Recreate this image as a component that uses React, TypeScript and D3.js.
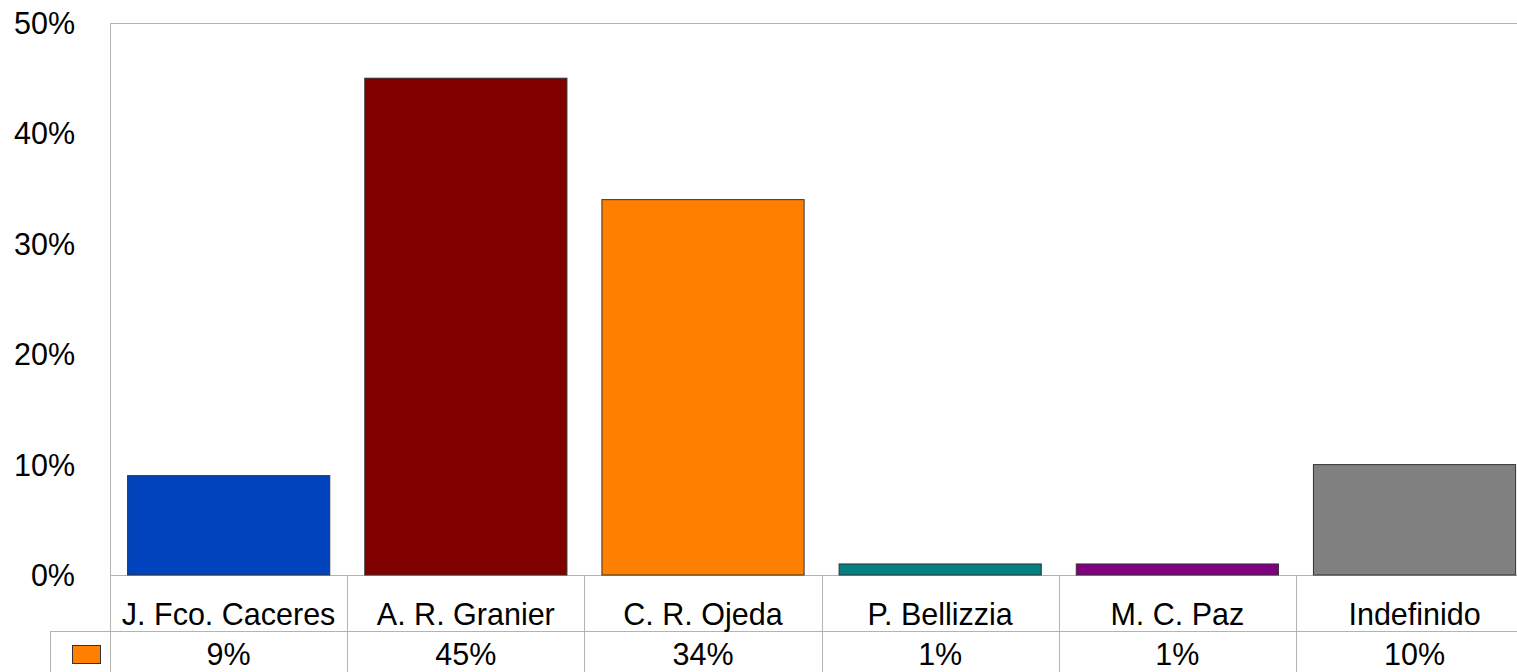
import React from "react";
import * as d3 from "d3";

const categories = ["J. Fco. Caceres", "A. R. Granier", "C. R. Ojeda", "P. Bellizzia", "M. C. Paz", "Indefinido"];
const values = [9, 45, 34, 1, 1, 10];
const barColors = ["#0043BD", "#800000", "#FF8000", "#008080", "#800080", "#808080"];
const yTicks = [0, 10, 20, 30, 40, 50];
const legendColor = "#FF8000";

const W = 1517;
const H = 672;
const left = 110;
const top = 23;
const bottom = 575;
const bandW = 237.2;
const right = left + bandW * categories.length;
const catRowBottom = 631;
const tableLeft = 50;
const gridColor = "#b3b3b3";
const font = "'Liberation Sans', Arial, sans-serif";
const fs = 30.5;

export default function App() {
  const x = d3.scaleBand<string>().domain(categories).range([left, right]).paddingInner(35 / bandW).paddingOuter(17.6 / bandW);
  const xBand = d3.scaleBand<string>().domain(categories).range([left, right]);
  const y = d3.scaleLinear().domain([0, 50]).range([bottom, top]);

  return (
    <div style={{ position: "fixed", left: 0, top: 0, width: W, height: H, background: "#fff" }}>
      <svg width={W} height={H} style={{ display: "block" }} fontFamily={font}>
        <rect x={0} y={0} width={W} height={H} fill="#fff" />
        {/* plot frame */}
        <line x1={left} x2={right} y1={top + 0.5} y2={top + 0.5} stroke={gridColor} />
        <line x1={left + 0.5} x2={left + 0.5} y1={top} y2={H} stroke={gridColor} />
        <line x1={left} x2={right} y1={bottom + 0.5} y2={bottom + 0.5} stroke={gridColor} />
        {/* bars */}
        {categories.map((c, i) => (
          <rect
            key={c}
            x={x(c)!}
            y={y(values[i])}
            width={x.bandwidth()}
            height={y(0) - y(values[i])}
            fill={barColors[i]}
            stroke="#333"
            strokeWidth={1}
          />
        ))}
        {/* y ticks */}
        {yTicks.map((t) => (
          <text key={t} x={75} y={y(t)} textAnchor="end" dominantBaseline="central" fontSize={fs} fill="#000">
            {`${t}%`}
          </text>
        ))}
        {/* table */}
        <line x1={tableLeft} x2={right} y1={catRowBottom + 0.5} y2={catRowBottom + 0.5} stroke={gridColor} />
        <line x1={tableLeft + 0.5} x2={tableLeft + 0.5} y1={catRowBottom} y2={H} stroke={gridColor} />
        {categories.map((c, i) =>
          i > 0 ? (
            <line
              key={"v" + c}
              x1={Math.round(xBand(c)!) + 0.5}
              x2={Math.round(xBand(c)!) + 0.5}
              y1={bottom}
              y2={H}
              stroke={gridColor}
            />
          ) : null
        )}
        {categories.map((c) => (
          <text key={"c" + c} x={xBand(c)! + bandW / 2} y={625} textAnchor="middle" fontSize={fs} fill="#000">
            {c}
          </text>
        ))}
        {categories.map((c, i) => (
          <text key={"val" + c} x={xBand(c)! + bandW / 2} y={665} textAnchor="middle" fontSize={fs} fill="#000">
            {`${values[i]}%`}
          </text>
        ))}
        <rect x={72.5} y={645.5} width={28} height={18} fill={legendColor} stroke="#333" />
      </svg>
    </div>
  );
}
